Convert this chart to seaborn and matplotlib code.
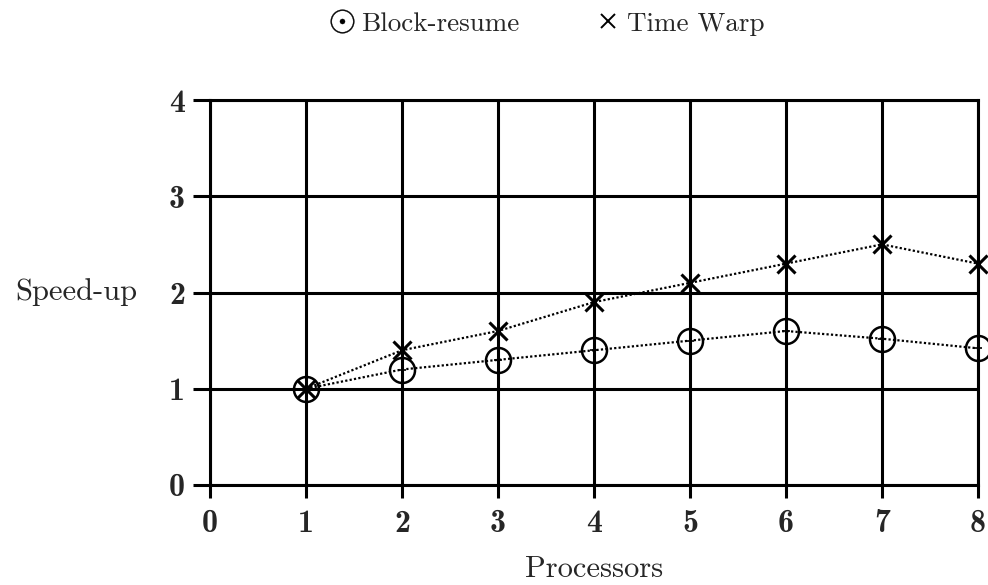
import matplotlib
matplotlib.use("Agg")
import numpy as np
import pandas as pd
import seaborn as sns
import matplotlib.pyplot as plt
from matplotlib.lines import Line2D

# ------ data ------ #
processors = [1, 2, 3, 4, 5, 6, 7, 8]
block_resume = [1.0, 1.2, 1.3, 1.4, 1.5, 1.6, 1.52, 1.42]
time_warp = [1.0, 1.4, 1.6, 1.9, 2.1, 2.3, 2.5, 2.3]
x_ticks = [0, 1, 2, 3, 4, 5, 6, 7, 8]
y_ticks = [0, 1, 2, 3, 4]

sns.set_theme(style="white")
plt.rcParams["font.family"] = ["cmr10", "DejaVu Sans"]
plt.rcParams["mathtext.fontset"] = "cm"
plt.rcParams["axes.formatter.use_mathtext"] = True

df = pd.DataFrame({
    "Processors": processors + processors,
    "Speed-up": block_resume + time_warp,
    "method": ["Block-resume"] * len(processors) + ["Time Warp"] * len(processors),
})

fig = plt.figure(figsize=(9.88, 5.85), dpi=100, facecolor="w")
ax = fig.add_axes([210 / 988, 1 - 485 / 585, 768 / 988, 385 / 585])

dotted = (0, (1, 1))
br = df[df["method"] == "Block-resume"]
tw = df[df["method"] == "Time Warp"]

# ------ Block-resume: open circle with a small plus inside ------ #
sns.lineplot(
    data=br, x="Processors", y="Speed-up", ax=ax, color="black",
    linestyle=dotted, linewidth=1.6, marker="o", markersize=18,
    markerfacecolor="none", markeredgecolor="black", markeredgewidth=1.8,
    clip_on=False, zorder=4,
)
sns.scatterplot(
    data=br, x="Processors", y="Speed-up", ax=ax, color="black",
    marker="+", s=40, linewidth=1.2, clip_on=False, zorder=5,
)

# ------ Time Warp: crosses ------ #
sns.lineplot(
    data=tw, x="Processors", y="Speed-up", ax=ax, color="black",
    linestyle=dotted, linewidth=1.6, marker="x", markersize=13,
    markeredgecolor="black", markeredgewidth=2.2, clip_on=False, zorder=4,
)

ax.set_xlim(0, 8)
ax.set_ylim(0, 4)
ax.set_xticks(x_ticks)
ax.set_yticks(y_ticks)
ax.set_xticklabels([str(v) for v in x_ticks], family="cmb10", fontsize=23)
ax.set_yticklabels([str(v) for v in y_ticks], family="cmb10", fontsize=23)
ax.tick_params(axis="x", direction="out", length=9, width=2.2,
               color="black", pad=8, bottom=True)
ax.tick_params(axis="y", direction="out", length=12, width=2.2,
               color="black", pad=6, left=True)

ax.grid(True, color="black", linewidth=2.2)
ax.set_axisbelow(True)
for sp in ax.spines.values():
    sp.set_color("black")
    sp.set_linewidth(2.2)

ax.set_xlabel("Processors", fontsize=22, va="baseline")
ax.xaxis.set_label_coords(0.5, -0.238)
ax.set_ylabel("Speed-up", fontsize=22, rotation=0, ha="right", va="center")
ax.yaxis.set_label_coords(-0.095, 0.5)

handles = [
    Line2D([], [], linestyle="none", marker=r"$\odot$", markersize=17,
           color="black", markeredgewidth=0.3),
    Line2D([], [], linestyle="none", marker="x", markersize=10,
           color="black", markeredgewidth=1.4),
]
ax.legend(
    handles, ["Block-resume", "Time Warp"], ncol=2, frameon=False,
    loc="center", bbox_to_anchor=(548 / 988, 1 - 24 / 585),
    bbox_transform=fig.transFigure, fontsize=19.5, handlelength=0.8,
    handletextpad=0.3, columnspacing=2.9,
)

fig.savefig("out.png", dpi=100, facecolor="w")
